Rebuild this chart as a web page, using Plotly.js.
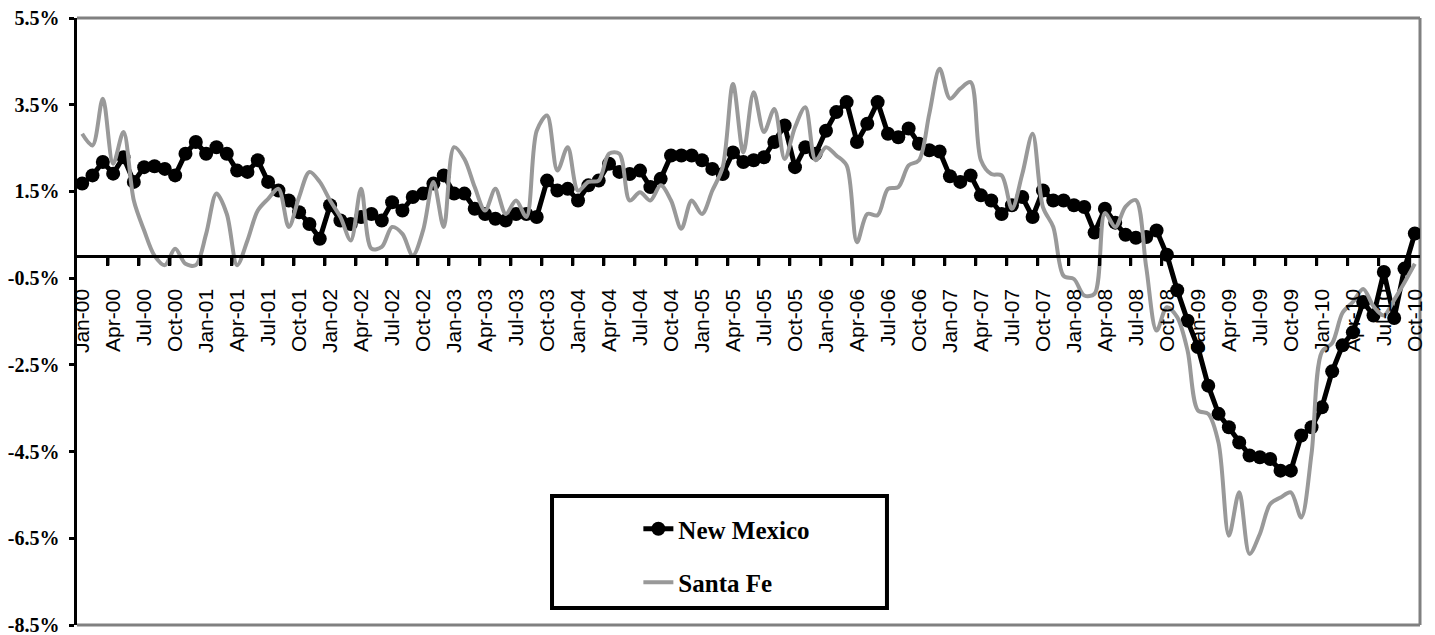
<!DOCTYPE html>
<html>
<head>
<meta charset="utf-8">
<script src="https://cdn.plot.ly/plotly-3.0.1.min.js"></script>
<style>
html,body{margin:0;padding:0;background:#ffffff;}
#chart{width:1435px;height:635px;}
</style>
</head>
<body>
<div id="chart"></div>
<script>
// Category labels: monthly, Jan-00 .. Oct-10
const monthNames = ['Jan','Feb','Mar','Apr','May','Jun','Jul','Aug','Sep','Oct','Nov','Dec'];
const yearLabels = ['00','01','02','03','04','05','06','07','08','09','10'];
const lastYearMonths = 10; // data ends Oct-10
const labelEvery = 3;      // a tick label every quarter

const categories = [];
yearLabels.forEach(function(yy, yi){
  const nm = (yi === yearLabels.length - 1) ? lastYearMonths : 12;
  for (let m = 0; m < nm; m++) categories.push(monthNames[m] + '-' + yy);
});
const xIndex = categories.map(function(c, i){ return i; });
const xTickVals = xIndex.filter(function(i){ return i % labelEvery === 0; });
const xTickText = xTickVals.map(function(i){ return categories[i]; });
// tick marks sit on the category boundaries, every 3rd boundary
const xBoundaryTicks = xTickVals.filter(function(i){ return i > 0; }).map(function(i){ return i - 0.5; });

// New Mexico, year-over-year % change
const newMexico = [
  1.68, 1.87, 2.18, 1.91, 2.29, 1.72, 2.06, 2.08, 2.02, 1.87, 2.37, 2.64,
  2.37, 2.52, 2.37, 1.98, 1.95, 2.22, 1.72, 1.52, 1.29, 1.02, 0.75, 0.41,
  1.18, 0.83, 0.75, 0.91, 0.98, 0.83, 1.25, 1.06, 1.37, 1.45, 1.68, 1.87,
  1.45, 1.45, 1.10, 0.98, 0.87, 0.83, 0.98, 0.98, 0.91, 1.75, 1.52, 1.56,
  1.29, 1.64, 1.75, 2.14, 1.95, 1.90, 1.98, 1.60, 1.79, 2.33, 2.33, 2.33,
  2.22, 2.02, 1.90, 2.40, 2.18, 2.22, 2.29, 2.64, 3.02, 2.06, 2.52, 2.37,
  2.90, 3.33, 3.56, 2.64, 3.06, 3.56, 2.83, 2.75, 2.95, 2.60, 2.45, 2.42,
  1.85, 1.72, 1.87, 1.41, 1.29, 0.98, 1.18, 1.37, 0.91, 1.52, 1.29, 1.29,
  1.18, 1.14, 0.55, 1.10, 0.78, 0.50, 0.43, 0.45, 0.60, 0.04, -0.78, -1.48,
  -2.09, -2.98, -3.63, -3.94, -4.29, -4.59, -4.63, -4.67, -4.94, -4.94, -4.13, -3.94,
  -3.48, -2.65, -2.05, -1.75, -1.05, -1.36, -0.36, -1.42, -0.28, 0.53
];

// Santa Fe, year-over-year % change
const santaFe = [
  2.83, 2.56, 3.64, 2.14, 2.87, 1.29, 0.60, 0.02, -0.20, 0.18, -0.17, -0.20,
  0.52, 1.45, 0.98, -0.20, 0.37, 1.06, 1.33, 1.56, 0.68, 1.37, 1.95, 1.72,
  1.29, 0.91, 0.37, 1.56, 0.18, 0.22, 0.68, 0.52, 0.02, 0.60, 1.72, 0.68,
  2.52, 2.25, 1.60, 1.06, 1.56, 0.98, 1.29, 0.91, 2.90, 3.25, 1.98, 2.52,
  1.52, 1.72, 1.75, 2.37, 2.37, 1.29, 1.48, 1.29, 1.64, 1.29, 0.64, 1.29,
  0.98, 1.52, 2.06, 3.98, 2.40, 3.79, 2.87, 3.40, 2.25, 2.98, 3.44, 2.22,
  2.52, 2.33, 2.10, 0.33, 0.98, 0.95, 1.56, 1.60, 2.10, 2.22, 3.29, 4.33,
  3.64, 3.87, 4.02, 2.22, 1.90, 1.87, 1.10, 1.90, 2.83, 1.14, 0.68, -0.45,
  -0.52, -0.90, -0.86, 1.00, 0.68, 1.15, 1.30, -0.25, -1.71, -1.17, -1.40, -2.17,
  -3.55, -3.63, -4.30, -6.44, -5.44, -6.86, -6.40, -5.71, -5.56, -5.44, -6.02, -4.55,
  -2.20, -2.00, -1.30, -1.05, -0.75, -1.15, -1.36, -1.00, -0.60, -0.17
];

const seriesNames = ['New Mexico', 'Santa Fe'];
const yTickVals = [-8.5, -6.5, -4.5, -2.5, -0.5, 1.5, 3.5, 5.5];
const yTickText = yTickVals.map(function(v){ return v.toFixed(1) + '%'; });
const yMin = -8.5, yMax = 5.5;

const traces = [
  {
    type: 'scatter', mode: 'lines+markers', name: seriesNames[0],
    x: xIndex, y: newMexico, text: categories, legendgroup: 'nm',
    line: {color: '#000000', width: 5},
    marker: {color: '#000000', size: 14, symbol: 'circle'},
    hoverinfo: 'skip'
  },
  {
    type: 'scatter', mode: 'lines', name: seriesNames[1],
    x: xIndex, y: santaFe, text: categories, legendgroup: 'sf',
    line: {color: '#999999', width: 4, shape: 'spline', smoothing: 0.9},
    hoverinfo: 'skip'
  }
];

const zeroFrac = (0 - yMin) / (yMax - yMin);

// category-boundary tick marks under the zero axis, sized in pixels
const tickShapes = xBoundaryTicks.map(function(xb){
  return {
    type: 'line', xref: 'x', yref: 'y',
    ysizemode: 'pixel', yanchor: 0,
    x0: xb, x1: xb, y0: 0, y1: -9,
    line: {color: '#000000', width: 3}, layer: 'above'
  };
});

const layout = {
  width: 1435, height: 635,
  margin: {l: 77, r: 15, t: 18, b: 10, pad: 0},
  paper_bgcolor: '#ffffff', plot_bgcolor: '#ffffff',
  showlegend: true,
  legend: {
    x: 0.418, y: 0.196, xanchor: 'left', yanchor: 'top',
    bgcolor: 'rgba(0,0,0,0)', borderwidth: 0,
    font: {family: '"Liberation Serif", "Times New Roman", serif', size: 25, color: '#000', weight: 'bold'},
    tracegroupgap: 18, traceorder: 'grouped'
  },
  xaxis: {
    type: 'linear',
    range: [-0.5, categories.length - 0.5],
    anchor: 'free', position: zeroFrac,
    tickmode: 'array', tickvals: xTickVals, ticktext: xTickText,
    ticks: 'outside', ticklen: 22, tickwidth: 1, tickcolor: 'rgba(0,0,0,0)',
    minor: {tickmode: 'array', tickvals: xBoundaryTicks, ticks: 'outside', ticklen: 8, tickwidth: 3, tickcolor: '#000', showgrid: false},
    tickangle: -90,
    tickfont: {family: '"Liberation Sans", Arial, sans-serif', size: 21, color: '#000'},
    showline: true, linecolor: '#000', linewidth: 3,
    showgrid: false, zeroline: false, fixedrange: true
  },
  yaxis: {
    range: [yMin, yMax],
    tickmode: 'array', tickvals: yTickVals, ticktext: yTickText,
    ticks: 'outside', ticklen: 5, tickwidth: 3, tickcolor: '#000',
    ticklabelstandoff: 5, ticklabeloverflow: 'allow',
    tickfont: {family: '"Liberation Serif", "Times New Roman", serif', size: 20, color: '#000', weight: 'bold'},
    showline: true, linecolor: '#000', linewidth: 3.5,
    showgrid: false, zeroline: false, fixedrange: true
  },
  shapes: [
    {type: 'line', xref: 'paper', yref: 'paper', x0: 0, x1: 1, y0: 1, y1: 1, line: {color: '#808080', width: 3}, layer: 'below'},
    {type: 'line', xref: 'paper', yref: 'paper', x0: 1, x1: 1, y0: 0, y1: 1, line: {color: '#808080', width: 3}, layer: 'below'},
    {type: 'line', xref: 'paper', yref: 'paper', x0: 0, x1: 1, y0: 0, y1: 0, line: {color: '#808080', width: 3}, layer: 'below'},
    {type: 'rect', xref: 'paper', yref: 'paper', x0: 0.3537, x1: 0.6031, y0: 0.028, y1: 0.2125,
     line: {color: '#000', width: 4}, fillcolor: '#ffffff', layer: 'above'}
  ].concat(tickShapes)
};

Plotly.newPlot('chart', traces, layout, {displayModeBar: false, staticPlot: true});
</script>
</body>
</html>
